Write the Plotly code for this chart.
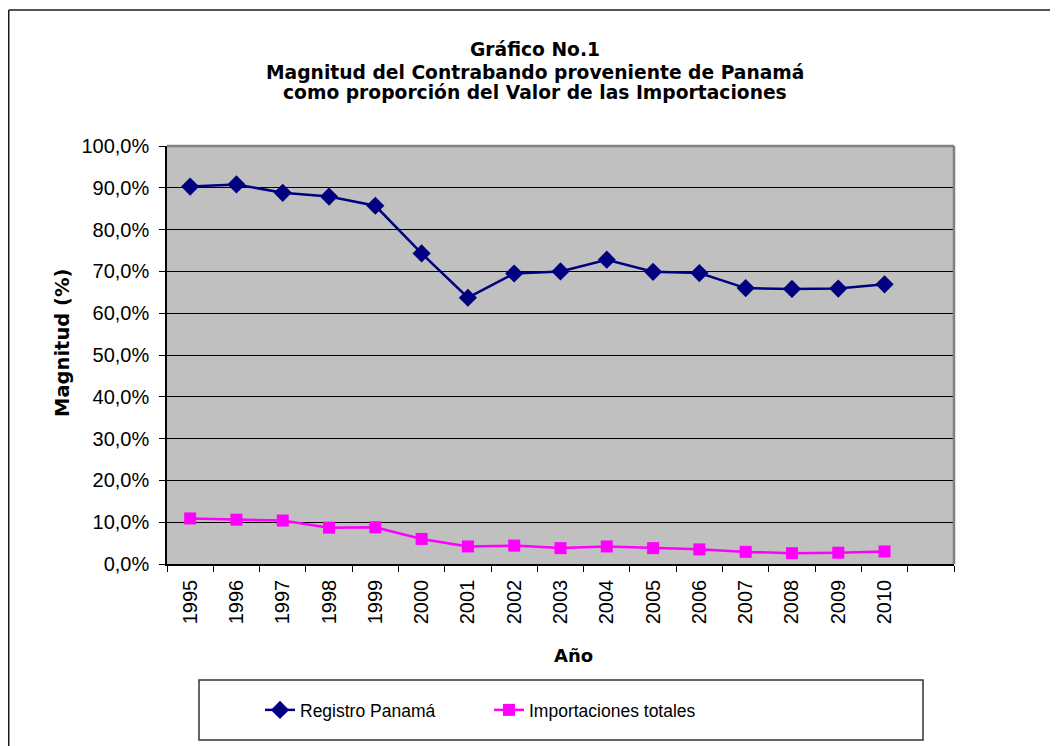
import plotly.graph_objects as go

years = ["1995", "1996", "1997", "1998", "1999", "2000", "2001", "2002",
         "2003", "2004", "2005", "2006", "2007", "2008", "2009", "2010"]
registro_panama = [0.903, 0.908, 0.888, 0.879, 0.857, 0.743, 0.637, 0.695,
                   0.700, 0.728, 0.699, 0.696, 0.660, 0.658, 0.659, 0.669]
importaciones_totales = [0.109, 0.106, 0.104, 0.087, 0.088, 0.060, 0.042, 0.044,
                         0.038, 0.042, 0.038, 0.035, 0.029, 0.026, 0.027, 0.030]
categories = years + [" "]

OFF = 8  # page body margin
W, H = 1058 - OFF, 746 - OFF
L, R, T, B = 167 - OFF, 954 - OFF, 146 - OFF, 564 - OFF


def px_x(p):
    """page pixel x -> paper fraction"""
    return (p - OFF - L) / (R - L)


def px_y(p):
    """page pixel y -> paper fraction"""
    return (B - (p - OFF)) / (B - T)


fig = go.Figure()
fig.add_trace(go.Scatter(
    x=years, y=registro_panama, name="Registro Panamá", mode="lines+markers",
    line=dict(color="#000080", width=2.5),
    marker=dict(symbol="diamond", size=14, color="#000080"),
))
fig.add_trace(go.Scatter(
    x=years, y=importaciones_totales, name="Importaciones totales", mode="lines+markers",
    line=dict(color="#FF00FF", width=2.5),
    marker=dict(symbol="square", size=12, color="#FF00FF"),
))

shapes = [
    dict(type="line", xref="paper", yref="paper", x0=0, x1=1, y0=1, y1=1,
         line=dict(color="#808080", width=2.5), layer="above"),
    dict(type="line", xref="paper", yref="paper", x0=1, x1=1, y0=0, y1=1,
         line=dict(color="#808080", width=2.5), layer="above"),
    dict(type="line", xref="paper", yref="paper", x0=px_x(8.75), x1=px_x(1070),
         y0=px_y(10), y1=px_y(10), line=dict(color="#1a1a1a", width=1.5)),
    dict(type="line", xref="paper", yref="paper", x0=px_x(8.75), x1=px_x(8.75),
         y0=px_y(10), y1=px_y(760), line=dict(color="#1a1a1a", width=1.5)),
    dict(type="rect", xref="paper", yref="paper", x0=px_x(199), x1=px_x(923),
         y0=px_y(680), y1=px_y(740), line=dict(color="#333333", width=1.5)),
]

title_lines = ["Gráfico No.1",
               "Magnitud del Contrabando proveniente de Panamá",
               "como proporción del Valor de las Importaciones"]
title_ys = [50, 72, 93]
title_font = dict(family="DejaVu Sans", size=18.7, color="black")

annotations = [
    dict(text="<b>%s</b>" % t, xref="paper", yref="paper", x=px_x(535), y=px_y(yy),
         xanchor="center", yanchor="middle", showarrow=False, font=title_font)
    for t, yy in zip(title_lines, title_ys)
] + [
    dict(text="<b>Magnitud (%)</b>", xref="paper", yref="paper", x=px_x(62), y=px_y(343),
         xanchor="center", yanchor="middle", textangle=-90, showarrow=False,
         font=dict(family="DejaVu Sans", size=19.5, color="black")),
    dict(text="<b>Año</b>", xref="paper", yref="paper", x=px_x(573), y=px_y(655),
         xanchor="center", yanchor="middle", showarrow=False,
         font=dict(family="DejaVu Sans", size=18, color="black")),
]

fig.update_layout(
    width=W, height=H,
    margin=dict(l=L, r=W - R, t=T, b=H - B, pad=0),
    paper_bgcolor="white", plot_bgcolor="#C0C0C0",
    separators=",.",
    font=dict(family="Liberation Sans, Arial", size=20, color="black"),
    showlegend=True,
    legend=dict(orientation="h", x=px_x(260), y=px_y(710), xanchor="left", yanchor="middle",
                bgcolor="rgba(0,0,0,0)", borderwidth=0,
                font=dict(family="Liberation Sans, Arial", size=17.5, color="black"),
                entrywidth=184, entrywidthmode="pixels"),
    shapes=shapes,
    annotations=annotations,
    xaxis=dict(type="category", categoryorder="array", categoryarray=categories,
               range=[-0.5, len(categories) - 0.5], tickson="boundaries",
               ticks="outside", ticklen=6, tickcolor="black", tickwidth=1,
               showline=True, linecolor="black", linewidth=1.5,
               showgrid=False, tickangle=-90, ticklabelstandoff=6,
               tickfont=dict(size=20)),
    yaxis=dict(range=[0, 1], dtick=0.1, tickformat=".1%",
               ticks="outside", ticklen=6, tickcolor="black",
               showline=True, linecolor="black", linewidth=1.5,
               showgrid=True, gridcolor="black", gridwidth=1, zeroline=False,
               ticklabelstandoff=6, tickfont=dict(size=20)),
)

fig.write_html("out.html")
